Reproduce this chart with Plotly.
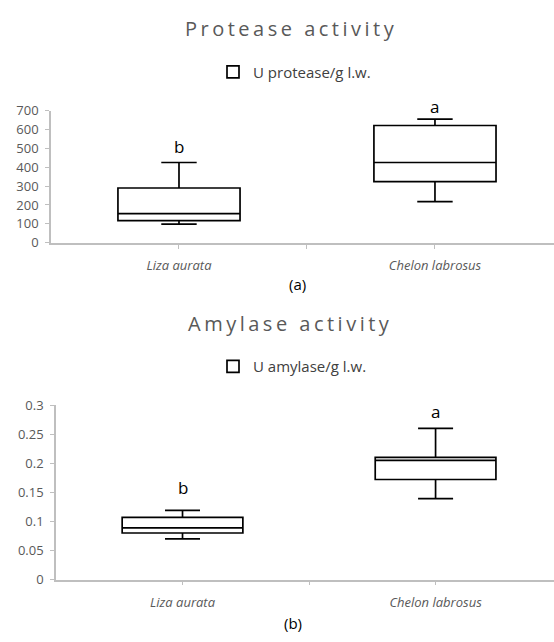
import plotly.graph_objects as go

# Species on the x axis
species = ["Liza aurata", "Chelon labrosus"]

# Protease activity (U protease/g l.w.) box statistics per species
protease_lower = [99, 218]
protease_q1 = [117, 324]
protease_median = [154, 425]
protease_q3 = [290, 621]
protease_upper = [425, 655]
protease_letters = ["b", "a"]

# Amylase activity (U amylase/g l.w.) box statistics per species
amylase_lower = [0.070, 0.139]
amylase_q1 = [0.080, 0.172]
amylase_median = [0.089, 0.205]
amylase_q3 = [0.107, 0.210]
amylase_upper = [0.119, 0.260]
amylase_letters = ["b", "a"]

W, H = 554, 642
FONT = "Open Sans"
GREY_TXT = "#595959"
GREY_AX = "#bfbfbf"

xpos = list(range(len(species)))


def py(px):
    """Pixel row from the top -> paper y."""
    return 1 - px / H


fig = go.Figure()

fig.add_trace(go.Box(
    x=xpos, lowerfence=protease_lower, q1=protease_q1, median=protease_median,
    q3=protease_q3, upperfence=protease_upper,
    name="U protease/g l.w.", fillcolor="white",
    line=dict(color="black", width=1.7), width=0.477, whiskerwidth=0.29,
    xaxis="x", yaxis="y", legend="legend", hoverinfo="skip",
))
fig.add_trace(go.Box(
    x=xpos, lowerfence=amylase_lower, q1=amylase_q1, median=amylase_median,
    q3=amylase_q3, upperfence=amylase_upper,
    name="U amylase/g l.w.", fillcolor="white",
    line=dict(color="black", width=1.7), width=0.477, whiskerwidth=0.29,
    xaxis="x2", yaxis="y2", legend="legend2", hoverinfo="skip",
))

xaxis_common = dict(
    tickvals=[0, 0.5, 1],
    ticktext=["<i>%s</i>" % species[0], "", "<i>%s</i>" % species[1]],
    showline=True, linecolor=GREY_AX, linewidth=1.5,
    ticks="outside", ticklen=4, tickcolor=GREY_AX, tickwidth=1.2,
    showgrid=False, zeroline=False, ticklabelstandoff=6,
    tickfont=dict(family=FONT, size=13, color=GREY_TXT), fixedrange=True,
)
yaxis_common = dict(
    showline=True, linecolor=GREY_AX, linewidth=1.5,
    ticks="outside", ticklen=4, tickcolor=GREY_AX, tickwidth=1.2,
    showgrid=False, zeroline=False, ticklabelstandoff=4,
    tickfont=dict(family=FONT, size=13, color=GREY_TXT), fixedrange=True,
)
legend_common = dict(
    xanchor="left", yanchor="middle", orientation="h", itemwidth=30,
    font=dict(family=FONT, size=15, color="#404040"), bgcolor="rgba(0,0,0,0)",
)

fig.update_layout(
    width=W, height=H, margin=dict(l=0, r=0, t=0, b=0),
    paper_bgcolor="white", plot_bgcolor="white",
    xaxis=dict(domain=[51 / W, 1], anchor="y", range=[-0.5, 1.465], **xaxis_common),
    yaxis=dict(domain=[py(240.5), py(104.5)], anchor="x", range=[0, 700],
               tickvals=[0, 100, 200, 300, 400, 500, 600, 700], **yaxis_common),
    xaxis2=dict(domain=[56 / W, 1], anchor="y2", range=[-0.5, 1.468], **xaxis_common),
    yaxis2=dict(domain=[py(587), py(407.5)], anchor="x2", range=[0, 0.3],
                tickvals=[0, 0.05, 0.1, 0.15, 0.2, 0.25, 0.3],
                ticktext=["0", "0.05", "0.1", "0.15", "0.2", "0.25", "0.3"],
                **yaxis_common),
    legend=dict(x=213 / W, y=py(65), **legend_common),
    legend2=dict(x=213 / W, y=py(368), **legend_common),
    showlegend=True,
)


def label(text, xpx, ypx, size, color):
    return dict(text=text, x=xpx / W, y=py(ypx), xref="paper", yref="paper",
                xanchor="center", yanchor="middle", showarrow=False,
                font=dict(family=FONT, size=size, color=color))


spaced = '<span style="letter-spacing:3.5px">%s</span>'
annotations = [
    label(spaced % "Protease activity", 291, 20, 20, GREY_TXT),
    label(spaced % "Amylase activity", 290, 324, 20, GREY_TXT),
    label("(a)", 297, 283, 15, "black"),
    label("(b)", 293, 632, 15, "black"),
]
# Significance letters above each box
for i, letter in enumerate(protease_letters):
    annotations.append(dict(text=letter, x=xpos[i], y=py([141, 100][i]), xref="x", yref="paper",
                            xanchor="center", yanchor="middle", showarrow=False,
                            font=dict(family=FONT, size=17, color="black")))
for i, letter in enumerate(amylase_letters):
    annotations.append(dict(text=letter, x=xpos[i], y=py([492, 414][i]), xref="x2", yref="paper",
                            xanchor="center", yanchor="middle", showarrow=False,
                            font=dict(family=FONT, size=17, color="black")))
fig.update_layout(annotations=annotations)

fig.write_html("out.html")
